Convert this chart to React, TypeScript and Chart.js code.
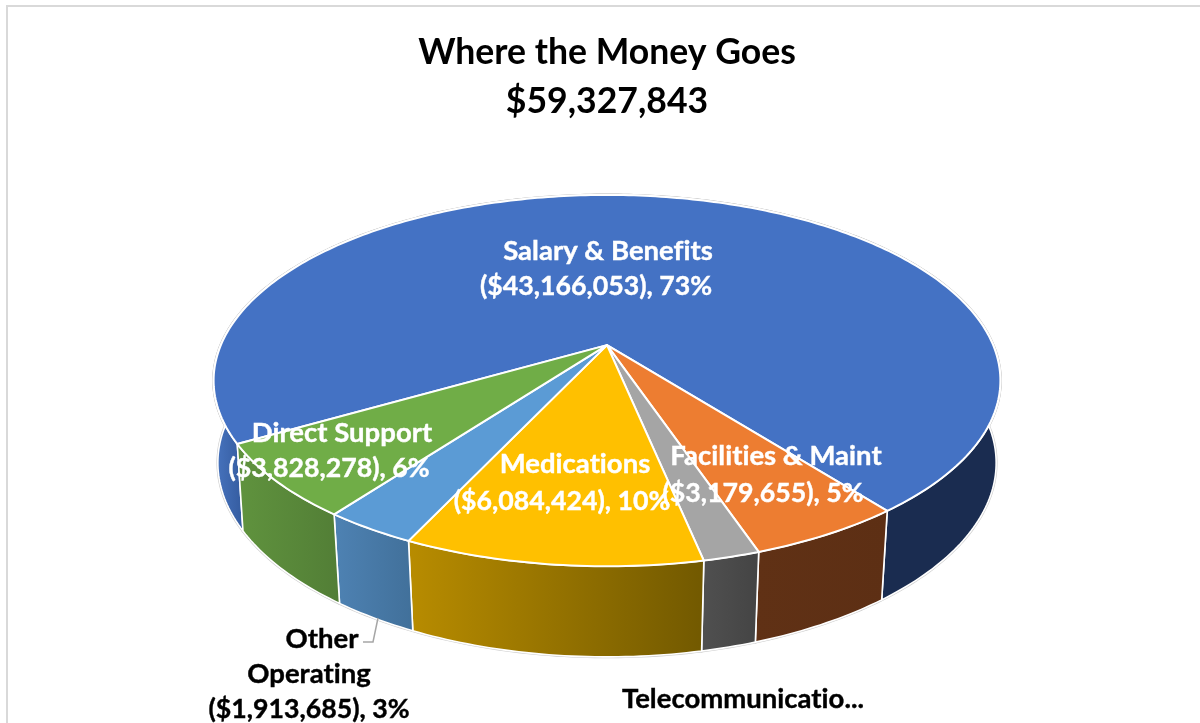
import React, { useEffect, useRef } from "react";
import { Chart, registerables } from "chart.js";

Chart.register(...registerables);

const categories = [
  "Salary & Benefits",
  "Facilities & Maint",
  "Telecommunications",
  "Medications",
  "Other Operating",
  "Direct Support",
];
const amounts = [43166053, 3179655, 1155748, 6084424, 1913685, 3828278];
const topColors = ["#4472C4", "#ED7D31", "#A5A5A5", "#FFC000", "#5B9BD5", "#70AD47"];
const wallColors = [
  ["#4672BC", "#2F5597", "#1A2C50"],
  ["#603115", "#5D2F14"],
  ["#505050", "#444444"],
  ["#B88C00", "#725900"],
  ["#4E82B3", "#41709A"],
  ["#60933E", "#527E36"],
];
const titleLines = ["Where the Money Goes", "$59,327,843"];

const FONT = "Lato, Carlito, Calibri, sans-serif";
const ASPECT = 1.77;
const DEPTH = 0.82;
const PERSP = 0.191;
const WALL_SCALE_X = 0.977;
const WALL_SIDE_GAIN = 0.015;
const WALL_SCALE_Y = 1.03;
const WALL_DROP = 0.385;
const FRINGE = "#CDCDCD";

type Pt = [number, number];

function project(el: any, a: number, lower: boolean): Pt {
  const u = el.outerRadius;
  const x = Math.cos(a);
  const y = Math.sin(a);
  const s = 1 / (1 - PERSP * y);
  const dx = u * ASPECT * x * s;
  const dy = u * DEPTH * y * s;
  if (!lower) return [el.x + dx, el.y + dy];
  const fx = WALL_SCALE_X + WALL_SIDE_GAIN * (1 - Math.abs(y));
  return [el.x + dx * fx, el.y + u * WALL_DROP + dy * WALL_SCALE_Y];
}

function rim(el: any, lower: boolean): Pt[] {
  const n = Math.max(4, Math.ceil((el.endAngle - el.startAngle) * 60));
  const pts: Pt[] = [];
  for (let i = 0; i <= n; i++) {
    pts.push(project(el, el.startAngle + ((el.endAngle - el.startAngle) * i) / n, lower));
  }
  return pts;
}

function money(v: number) {
  return "($" + v.toLocaleString("en-US") + ")";
}

const pie3d = {
  id: "pie3d",
  beforeDraw(chart: any) {
    const { ctx } = chart;
    ctx.save();
    ctx.fillStyle = "#ffffff";
    ctx.fillRect(0, 0, chart.width, chart.height);
    ctx.fillStyle = "#D9D9D9";
    ctx.fillRect(6, 5, chart.width - 6, 2);
    ctx.fillRect(6, 5, 2, chart.height - 5);
    ctx.restore();
  },
  beforeDatasetDraw(chart: any, args: any) {
    const { ctx } = chart;
    const arcs = args.meta.data;
    ctx.save();
    ctx.lineJoin = "round";

    const wallPath = (el: any) => {
      const top = rim(el, false);
      const low = rim(el, true).reverse();
      ctx.beginPath();
      top.forEach((p, k) => (k ? ctx.lineTo(p[0], p[1]) : ctx.moveTo(p[0], p[1])));
      low.forEach((p) => ctx.lineTo(p[0], p[1]));
      ctx.closePath();
    };
    const topPath = (el: any) => {
      ctx.beginPath();
      ctx.moveTo(el.x, el.y);
      rim(el, false).forEach((p) => ctx.lineTo(p[0], p[1]));
      ctx.closePath();
    };

    ctx.strokeStyle = FRINGE;
    ctx.lineWidth = 2.8;
    arcs.forEach((el: any) => {
      wallPath(el);
      ctx.stroke();
      topPath(el);
      ctx.stroke();
    });

    arcs.forEach((el: any, i: number) => {
      const all = rim(el, false).concat(rim(el, true));
      const x0 = Math.min(...all.map((p) => p[0]));
      const x1 = Math.max(...all.map((p) => p[0]));
      const stops = wallColors[i];
      let g;
      if (i === 0) {
        g = ctx.createLinearGradient(217, 0, 880, 0);
        g.addColorStop(0, stops[0]);
        g.addColorStop(0.05, stops[1]);
        g.addColorStop(1, stops[2]);
      } else {
        g = ctx.createLinearGradient(x0, 0, x1, 0);
        stops.forEach((c, k) => g.addColorStop(k / (stops.length - 1), c));
      }
      wallPath(el);
      ctx.fillStyle = g;
      ctx.fill();
      ctx.strokeStyle = "#ffffff";
      ctx.lineWidth = 1.6;
      ctx.stroke();
    });
    arcs.forEach((el: any) => {
      topPath(el);
      ctx.fillStyle = el.options.backgroundColor;
      ctx.fill();
      ctx.strokeStyle = el.options.borderColor;
      ctx.lineWidth = el.options.borderWidth;
      ctx.stroke();
    });
    ctx.restore();
    return false;
  },
  afterDatasetsDraw(chart: any) {
    const { ctx } = chart;
    const total = amounts.reduce((a, b) => a + b, 0);
    const line2 = (i: number) => `${money(amounts[i])}, ${Math.round((amounts[i] / total) * 100)}%`;
    const put = (t: string, cx: number, y: number, color: string, size = 27.5) => {
      ctx.font = `bold ${size}px ${FONT}`;
      ctx.fillStyle = color;
      ctx.strokeStyle = color;
      ctx.lineWidth = 0.4;
      ctx.fillText(t, cx, y);
      ctx.strokeText(t, cx, y);
    };
    ctx.save();
    ctx.letterSpacing = "0.01px";
    ctx.textAlign = "center";
    ctx.textBaseline = "alphabetic";
    const W = "#ffffff";
    const K = "#000000";
    const V = 26.7;
    put(categories[0], 608, 260, W);
    put(line2(0), 596, 295, W, V);
    put(categories[5], 342, 442, W);
    put(line2(5), 329, 477, W, V);
    put(categories[3], 575, 473, W);
    put(line2(3), 562, 510, W, V);
    put(categories[1], 776, 465, W);
    put(line2(1), 763, 502, W, V);
    put("Other", 322, 648, K);
    put("Operating", 309, 683, K);
    put(line2(4), 309, 718, K, V);
    put("Telecommunicatio...", 743, 708, K);

    ctx.strokeStyle = "#A6A6A6";
    ctx.lineWidth = 1.5;
    ctx.beginPath();
    ctx.moveTo(378, 618);
    ctx.lineTo(373, 642);
    ctx.lineTo(363, 642);
    ctx.stroke();

    ctx.fillStyle = "#000000";
    ctx.font = `italic 26px ${FONT}`;
    ctx.fillText("p", 103, -4);
    ctx.fillText("y", 250, -4);
    ctx.fillText("g", 722, -4);
    ctx.restore();
  },
};

export default function App() {
  const ref = useRef<HTMLCanvasElement | null>(null);
  useEffect(() => {
    const chart = new Chart(ref.current as HTMLCanvasElement, {
      type: "pie",
      data: {
        labels: categories,
        datasets: [
          {
            data: amounts,
            backgroundColor: topColors,
            borderColor: "#ffffff",
            borderWidth: 2,
          },
        ],
      },
      options: {
        responsive: false,
        animation: false,
        rotation: 240,
        layout: { padding: { left: 14, right: 0, top: 0, bottom: 158.7 } },
        plugins: {
          legend: { display: false },
          tooltip: { enabled: false },
          title: {
            display: true,
            text: titleLines,
            color: "#000000",
            font: { family: FONT, weight: "bold", size: 35.6, lineHeight: 1.376 },
            padding: { top: 28, bottom: 0 },
          },
        },
      },
      plugins: [pie3d],
    } as any);
    return () => chart.destroy();
  }, []);
  return (
    <div style={{ position: "fixed", left: 0, top: 0, width: 1200, height: 723 }}>
      <canvas ref={ref} width={1200} height={723} style={{ display: "block" }} />
    </div>
  );
}
